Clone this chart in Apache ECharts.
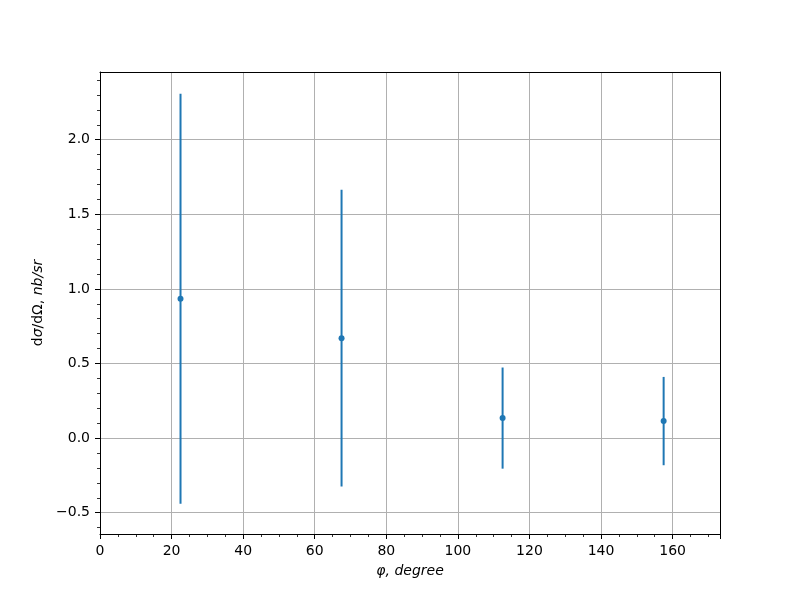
<!DOCTYPE html>
<html>
<head>
<meta charset="utf-8">
<script src="https://cdn.jsdelivr.net/npm/echarts@6/dist/echarts.min.js"></script>
<style>html,body{margin:0;padding:0;background:#fff}#c{width:800px;height:600px}</style>
</head>
<body>
<div id="c"></div>
<script>
const phi = [22.5, 67.5, 112.5, 157.5];
const sigma = [0.934, 0.670, 0.134, 0.114];
const sigmaErr = [1.375, 0.994, 0.339, 0.296];
const xTicks = [0, 20, 40, 60, 80, 100, 120, 140, 160];
const yTicks = [-0.5, 0.0, 0.5, 1.0, 1.5, 2.0];
const yMinorTicks = [-0.6, -0.4, -0.3, -0.2, -0.1, 0.1, 0.2, 0.3, 0.4, 0.6, 0.7, 0.8, 0.9,
  1.1, 1.2, 1.3, 1.4, 1.6, 1.7, 1.8, 1.9, 2.1, 2.2, 2.3, 2.4];

const fontFam = 'DejaVu Sans';
const X_MIN = 0, X_MAX = 173.25;
const Y_MIN = -0.643, Y_MAX = 2.454;
const chart = echarts.init(document.getElementById('c'), null, {renderer: 'canvas'});
const errData = phi.map((p, i) => [p, sigma[i], sigmaErr[i]]);
const ptData = phi.map((p, i) => [p, sigma[i]]);
const fmt = v => {
  const s = (Math.abs(v) < 1e-9 ? 0 : v).toFixed(1);
  return s.replace('-', '\u2212');
};
const spine = {show: true, onZero: false, lineStyle: {color: '#000', width: 1}};

chart.setOption({
  animation: false,
  backgroundColor: '#fff',
  grid: {left: 100, right: 80, top: 72, bottom: 66, show: false},
  xAxis: [
    {
      type: 'value', min: X_MIN, max: X_MAX, interval: 20,
      name: '{i|\u03c6, degree}', nameLocation: 'middle', nameGap: 30,
      nameTextStyle: {rich: {i: {fontFamily: fontFam, fontStyle: 'italic', fontSize: 14, color: '#000'}}},
      axisLine: spine,
      axisTick: {show: true, inside: false, length: 5, lineStyle: {color: '#000', width: 1}},
      minorTick: {show: true, splitNumber: 4, length: 3, lineStyle: {color: '#000', width: 0.8}},
      axisLabel: {show: true, margin: 10, color: '#000', fontFamily: fontFam, fontSize: 14, showMaxLabel: false,
        formatter: v => xTicks.includes(v) ? String(v) : ''},
      splitLine: {show: true, lineStyle: {color: '#b0b0b0', width: 1}}
    },
    {
      type: 'value', min: X_MIN, max: X_MAX, position: 'top',
      axisLine: spine, axisTick: {show: false}, axisLabel: {show: false}, splitLine: {show: false}
    }
  ],
  yAxis: [
    {
      type: 'value', min: Y_MIN, max: Y_MAX,
      name: '{n|d}{i|\u03c3}{n|/d\u03a9, }{i|nb/sr}', nameLocation: 'middle', nameGap: 45, nameRotate: 90,
      nameTextStyle: {rich: {
        n: {fontFamily: fontFam, fontSize: 14, color: '#000'},
        i: {fontFamily: fontFam, fontStyle: 'italic', fontSize: 14, color: '#000'}}},
      axisLine: spine,
      axisTick: {show: true, inside: false, length: 5, customValues: yTicks, lineStyle: {color: '#000', width: 1}},
      minorTick: {show: false},
      axisLabel: {show: true, margin: 10, color: '#000', fontFamily: fontFam, fontSize: 14, customValues: yTicks,
        formatter: v => fmt(v)},
      splitLine: {show: true, lineStyle: {color: '#b0b0b0', width: 1}}
    },
    {
      type: 'value', min: Y_MIN, max: Y_MAX, position: 'left', offset: 0,
      axisLine: {show: false},
      axisTick: {show: true, inside: false, length: 3, customValues: yMinorTicks, lineStyle: {color: '#000', width: 0.8}},
      axisLabel: {show: false},
      splitLine: {show: false}
    },
    {
      type: 'value', min: Y_MIN, max: Y_MAX, position: 'right', offset: 0,
      axisLine: spine, axisTick: {show: false}, axisLabel: {show: false}, splitLine: {show: false}
    }
  ],
  series: [
    {
      type: 'custom',
      data: errData,
      clip: true,
      renderItem: (params, api) => {
        const x = api.value(0), y = api.value(1), e = api.value(2);
        const p1 = api.coord([x, y - e]);
        const p2 = api.coord([x, y + e]);
        return {type: 'line', shape: {x1: p1[0], y1: p1[1], x2: p2[0], y2: p2[1]},
          style: {stroke: '#1f77b4', lineWidth: 2}};
      },
      z: 3
    },
    {
      type: 'scatter',
      data: ptData,
      symbol: 'circle', symbolSize: 6,
      itemStyle: {color: '#1f77b4', opacity: 1},
      z: 4
    }
  ]
});
</script>
</body>
</html>
